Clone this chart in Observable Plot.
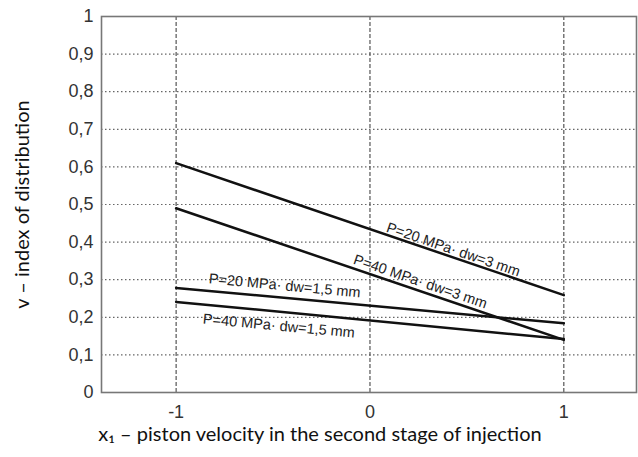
<!DOCTYPE html>
<html>
<head>
<meta charset="utf-8">
<script src="https://cdn.jsdelivr.net/npm/d3@7"></script>
<script src="https://cdn.jsdelivr.net/npm/@observablehq/plot@0.6"></script>
<style>
  html, body { margin: 0; padding: 0; background: #fff; }
  #chart svg { display: block; }
</style>
</head>
<body>
<div id="chart"></div>
<script>
// Data
const xValues = [-1, 1];
const seriesNames = ["P=20 MPa· dw=3 mm", "P=40 MPa· dw=3 mm", "P=20 MPa· dw=1,5 mm", "P=40 MPa· dw=1,5 mm"];
const seriesStart = [0.61, 0.49, 0.278, 0.241];   // v at x1 = -1
const seriesEnd = [0.259, 0.14, 0.184, 0.142];     // v at x1 = 1
const labelX = [0.43, 0.26, -0.44, -0.47];
const labelY = [0.38, 0.295, 0.284, 0.177];
const labelAngle = [18.8, 18.8, 5.3, 5.3];
const yTicks = [0, 0.1, 0.2, 0.3, 0.4, 0.5, 0.6, 0.7, 0.8, 0.9, 1];
const xTicks = [-1, 0, 1];
const xTitle = "x\u2081 \u2013 piston velocity in the second stage of injection";
const yTitle = "v \u2013 index of distribution";

const lines = [];
seriesNames.forEach((s, i) => {
  lines.push({series: s, x: xValues[0], y: seriesStart[i]});
  lines.push({series: s, x: xValues[1], y: seriesEnd[i]});
});
const labels = seriesNames.map((s, i) => ({text: s, x: labelX[i], y: labelY[i], angle: labelAngle[i]}));

const fmt = d => d === 0 ? "0" : d === 1 ? "1" : String(d).replace(".", ",");

const chart = Plot.plot({
  width: 638,
  height: 457,
  marginLeft: 101,
  marginRight: 2,
  marginTop: 16,
  marginBottom: 65,
  style: {fontFamily: "Liberation Sans, Arial, sans-serif", background: "#fff"},
  x: {domain: [-1.385, 1.375]},
  y: {domain: [0, 1]},
  marks: [
    Plot.gridY(yTicks.filter(d => d > 0 && d < 1), {stroke: "#666", strokeOpacity: 1, strokeWidth: 1.2, strokeDasharray: "1.5,2.5"}),
    Plot.gridX(xTicks, {stroke: "#555", strokeOpacity: 1, strokeWidth: 1.2, strokeDasharray: "4,2"}),
    Plot.frame({stroke: "#777", strokeWidth: 1.6}),
    Plot.axisY(yTicks, {tickSize: 0, tickPadding: 8, tickFormat: fmt, fontSize: 18, fill: "#333", label: null}),
    Plot.axisX(xTicks, {tickSize: 0, tickPadding: 13, tickFormat: d => String(d), fontSize: 18, fill: "#333", label: null}),
    Plot.line(lines, {x: "x", y: "y", z: "series", stroke: "#111", strokeWidth: 2.5}),
    Plot.text(labels, {x: "x", y: "y", text: "text", rotate: "angle", fontSize: 14.5, fill: "#222", textAnchor: "middle"}),
    Plot.text([xTitle], {frameAnchor: "bottom", textAnchor: "middle", dx: -49, dy: 48, fontSize: 20, fontFamily: "Lato", fill: "#111"}),
    Plot.text([yTitle], {frameAnchor: "left", textAnchor: "middle", rotate: -90, dx: -79, fontSize: 20, fontFamily: "Lato", fill: "#111"})
  ]
});
document.getElementById("chart").appendChild(chart);
</script>
</body>
</html>
